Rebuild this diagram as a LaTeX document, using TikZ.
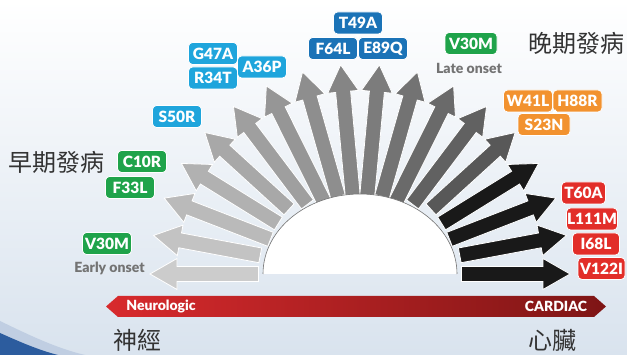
\documentclass[tikz,border=0pt]{standalone}
\usepackage{fontspec}
\setmainfont{Lato}[BoldFont={Lato Black}]
\newfontfamily\cjk{Noto Sans CJK TC}
\usetikzlibrary{positioning,calc}

\definecolor{skyb}{HTML}{1FA5DC}
\definecolor{deepb}{HTML}{1B73B7}
\definecolor{grn}{HTML}{1FA34A}
\definecolor{orng}{HTML}{F2922F}
\definecolor{redb}{HTML}{E22E29}
\definecolor{bgblue}{HTML}{D9E3EE}
\definecolor{barl}{HTML}{D82A2D}
\definecolor{barm}{HTML}{C92429}
\definecolor{barr}{HTML}{7E1515}
\definecolor{swoosh}{HTML}{2C5C9E}

\begin{document}
\begin{tikzpicture}[x=1pt, y=1pt,
  mut/.style={draw=white, line width=0.8pt, rounded corners=4pt, text=white,
    font=\fontsize{15.5}{15.5}\selectfont\bfseries,
    minimum width=49pt, minimum height=22pt, inner sep=0pt},
  onset/.style={font=\fontsize{14}{14}\selectfont\bfseries, text=black!55},
  cjkt/.style={font=\fontsize{24}{24}\selectfont\cjk, text=black!80},
  bartxt/.style={font=\fontsize{14}{14}\selectfont\bfseries, text=white}
]
\useasboundingbox (0,0) rectangle (627,355);
\shade[top color=white, bottom color=bgblue] (0,0) rectangle (627,355);
\fill[swoosh!30] (0,0) -- (0,34) .. controls (25,22) and (55,7) .. (85,0) -- cycle;
\fill[swoosh] (0,0) -- (0,22) .. controls (18,14) and (38,5) .. (58,0) -- cycle;

% fan of arrows
\begin{scope}[shift={(360,81)}]
\foreach \i in {0,...,17}{
  \pgfmathsetmacro\ang{180-\i*180/17}
  \pgfmathsetmacro\shd{\i<14 ? 20+3.5*\i : 90}
  \pgfmathsetmacro\rb{1/sqrt((cos(\ang)/97)^2+(sin(\ang)/80)^2)-4}
  \filldraw[fill=black!\shd, draw=white, line width=0.8pt, rotate=\ang]
    (\rb,-7.5) -- (183,-7.5) -- (183,-15.5) -- (210,0) -- (183,15.5)
    -- (183,7.5) -- (\rb,7.5) -- cycle;
}
\fill[white] (97,0) arc[start angle=0, end angle=180, x radius=97, y radius=80] -- cycle;
\draw[black!55, line width=0.6pt] (97,0) arc[start angle=0, end angle=180, x radius=97, y radius=80];
\end{scope}

% bar
\shade[left color=barl, middle color=barm, right color=barr]
  (106,48.5) -- (118,59) -- (594,59) -- (606,48.5) -- (594,38) -- (118,38) -- cycle;
\node[bartxt] (neuro) at (161,48.5) {Neurologic};
\node[bartxt] (card) at (556,48.5) {CARDIAC};

\node[cjkt] (shen) at (137,15) {神經};
\node[cjkt] (xin) at (552,15) {心臟};
\node[cjkt] (early) at (56.5,192.5) {早期發病};
\node[cjkt] (late) at (576,311.5) {晚期發病};

% mutations
\node[mut, fill=skyb] (g47a) at (213,301.5) {G47A};
\node[mut, fill=skyb] (r34t) at (213,277) {R34T};
\node[mut, fill=skyb] (a36p) at (262,288) {A36P};
\node[mut, fill=skyb] (s50r) at (177,238.5) {S50R};

\node[mut, fill=deepb] (t49a) at (358,332) {T49A};
\node[mut, fill=deepb] (f64l) at (333,306.5) {F64L};
\node[mut, fill=deepb] (e89q) at (383,306.5) {E89Q};

\node[mut, fill=grn, minimum width=52pt] (v30mb) at (471,311.5) {V30M};
\node[onset] (lateon) at (469,286.5) {Late onset};

\node[mut, fill=orng] (w41l) at (528,254) {W41L};
\node[mut, fill=orng] (h88r) at (577.5,254) {H88R};
\node[mut, fill=orng, minimum width=52pt] (s23n) at (544,230.5) {S23N};

\node[mut, fill=grn] (c10r) at (142,193.5) {C10R};
\node[mut, fill=grn] (f33l) at (130,167.5) {F33L};
\node[mut, fill=grn] (v30ma) at (107,111.5) {V30M};
\node[onset] (earlyon) at (109.5,86.5) {Early onset};

\node[mut, fill=redb, minimum width=44pt] (t60a) at (583.5,162) {T60A};
\node[mut, fill=redb, minimum width=51pt] (l111m) at (592,136) {L111M};
\node[mut, fill=redb, minimum width=47pt] (i68l) at (596,111) {I68L};
\node[mut, fill=redb, minimum width=47pt] (v122i) at (601.5,86.5) {V122I};

% small pointers
\fill[white] ($(t49a.south)+(-3,0)$) -- ++(6,0) -- ++(-3,-4) -- cycle;
\fill[white] ($(a36p.west)+(0,2.5)$) -- ++(0,-5) -- ++(-3.5,2.5) -- cycle;
\fill[white] ($(s23n.north)+(8,0)$) -- ++(6,0) -- ++(-3,4) -- cycle;
\end{tikzpicture}
\end{document}
